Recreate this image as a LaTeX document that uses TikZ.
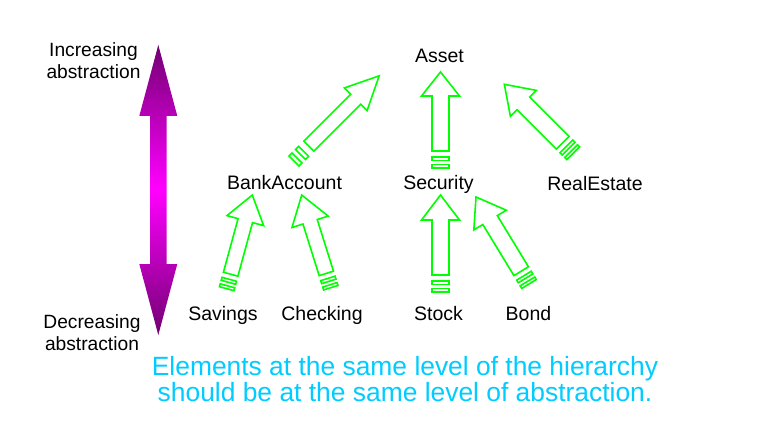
\documentclass[tikz,border=0pt]{standalone}
\usepackage{fontspec}
\setmainfont{Liberation Sans}
\usetikzlibrary{calc}

\definecolor{arrowgreen}{RGB}{0,255,0}
\definecolor{capcyan}{RGB}{0,204,255}
\definecolor{deeppurple}{RGB}{112,0,112}
\definecolor{brightmagenta}{RGB}{255,0,255}

\tikzset{
  hollowarrow/.style={draw=arrowgreen, line width=1.6pt, fill=white, line join=miter},
  lbl/.style={inner sep=0pt, anchor=base, font=\fontsize{19.5}{23}\selectfont},
  sidelbl/.style={inner sep=0pt, anchor=base, align=center, font=\fontsize{19.2}{22}\selectfont},
  caption/.style={inner sep=0pt, anchor=base, align=center, text=capcyan, font=\fontsize{26.4}{26}\selectfont},
}

% Striped block arrow from tail #1 to tip #2:
% #3 shaft half-width, #4 head half-width, #5 head length, #6 length of the striped tail
\newcommand{\stripedarrow}[6]{%
  \path let \p1=($(#2)-(#1)$) in \pgfextra{%
    \pgfmathsetmacro\sarang{atan2(\y1,\x1)}%
    \pgfmathsetmacro\sarlen{veclen(\x1,\y1)}%
    \global\let\sarang\sarang
    \global\let\sarlen\sarlen};
  \begin{scope}[shift={(#1)}, rotate=\sarang]
    \draw[hollowarrow] (#6,-#3) -- ({\sarlen-#5},-#3) -- ({\sarlen-#5},-#4)
      -- (\sarlen,0) -- ({\sarlen-#5},#4) -- ({\sarlen-#5},#3) -- (#6,#3) -- cycle;
    \draw[hollowarrow] (0,-#3) rectangle ({0.2*#6},#3);
    \draw[hollowarrow] ({0.44*#6},-#3) rectangle ({0.65*#6},#3);
  \end{scope}}

\begin{document}
\begin{tikzpicture}[x=1pt, y=-1pt]
  \fill[white] (0,0) rectangle (767,438);
  \useasboundingbox (0,0) rectangle (767,438);

  % abstraction scale: double arrow, dark at both tips, bright in the middle
  \begin{scope}
    \clip (158.3,45) -- (177.3,116) -- (166.6,116) -- (166.6,264) -- (177.3,264)
      -- (158.3,335) -- (139.3,264) -- (150,264) -- (150,116) -- (139.3,116) -- cycle;
    \foreach \i in {0,...,145} {
      \pgfmathsetmacro\ytop{44+2*\i}
      \pgfmathtruncatemacro\pct{100*abs(\ytop+1-190)/146}
      \colorlet{stripcol}{deeppurple!\pct!brightmagenta}
      \fill[stripcol] (138,\ytop) rectangle (179,\ytop+2.4);
    }
  \end{scope}
  \node[sidelbl] (inc) at (93.5,78.3) {Increasing\\abstraction};
  \node[sidelbl] (dec) at (92,350.5) {Decreasing\\abstraction};

  % class names
  \node[lbl] (asset) at (439.5,62.7) {Asset};
  \node[lbl] (bank) at (284.5,190) {BankAccount};
  \node[lbl] (security) at (438.5,190) {Security};
  \node[lbl] (realestate) at (595,190.5) {RealEstate};
  \node[lbl] (savings) at (223,320) {Savings};
  \node[lbl] (checking) at (322,320) {Checking};
  \node[lbl] (stock) at (438.5,320) {Stock};
  \node[lbl] (bond) at (528.5,320) {Bond};

  % arrow end points
  \coordinate (ba-tail) at (294,161);     \coordinate (ba-tip) at (379.5,75.5);
  \coordinate (sa-tail) at (440.5,168);   \coordinate (sa-tip) at (440.5,72);
  \coordinate (ra-tail) at (573.3,153.3); \coordinate (ra-tip) at (504.3,84.3);
  \coordinate (sv-tail) at (226.7,288.7); \coordinate (sv-tip) at (252.3,195);
  \coordinate (ch-tail) at (330.8,287.7); \coordinate (ch-tip) at (301.7,195);
  \coordinate (st-tail) at (440.5,292);   \coordinate (st-tip) at (440.5,195);
  \coordinate (bo-tail) at (529,284);     \coordinate (bo-tip) at (476,197);

  \stripedarrow{ba-tail}{ba-tip}{7}{16}{33}{21}
  \stripedarrow{sa-tail}{sa-tip}{8.5}{19}{24}{17}
  \stripedarrow{ra-tail}{ra-tip}{9}{18.4}{27}{15}
  \stripedarrow{sv-tail}{sv-tip}{7.5}{19}{26.5}{15}
  \stripedarrow{ch-tail}{ch-tip}{7.5}{19}{28}{15}
  \stripedarrow{st-tail}{st-tip}{8.5}{19}{25}{17}
  \stripedarrow{bo-tail}{bo-tip}{8.5}{19}{27}{15}

  % caption
  \node[caption] (note) at (405,401)
    {Elements at the same level of the hierarchy\\should be at the same level of abstraction.};
\end{tikzpicture}
\end{document}
